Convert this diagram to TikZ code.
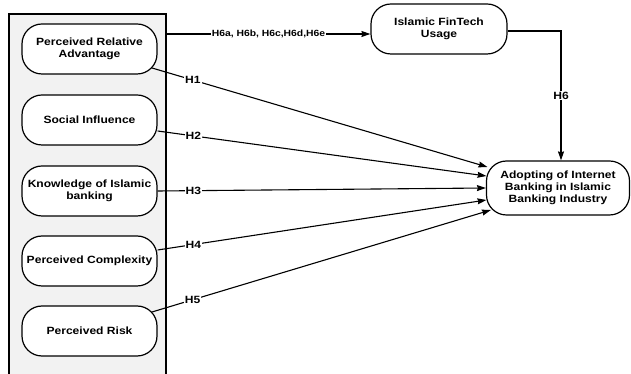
\documentclass[tikz,border=0pt]{standalone}
\usepackage{fontspec}
\setmainfont{Liberation Sans}[FakeStretch=1.15]
\usetikzlibrary{arrows.meta,calc}
\begin{document}
\begin{tikzpicture}[x=1pt,y=1pt,
  cbox/.style={draw, line width=1.2pt, rounded corners=20pt, minimum width=135pt, minimum height=50pt, align=center, fill=white, inner sep=2pt, font=\fontsize{10.5}{12}\selectfont\bfseries},
  lab/.style={fill=white, inner sep=1pt, font=\fontsize{10.5}{12}\selectfont\bfseries},
  labs/.style={fill=white, inner sep=1pt, font=\fontsize{9}{10}\selectfont\bfseries},
  arr/.style={line width=1.1pt, -{Stealth[length=9pt,width=6pt,inset=1pt]}}]
\useasboundingbox (0,0) rectangle (631,374);
\node[draw, fill=gray!10, line width=1.2pt, minimum width=157pt, minimum height=366pt, inner sep=0pt] (cont) at (87.5,177) {};
\node[cbox] (pra) at (89.5,325) {Perceived Relative\\Advantage};
\node[cbox] (si) at (89.5,254) {Social Influence};
\node[cbox] (kib) at (89.5,183) {Knowledge of Islamic\\banking};
\node[cbox] (pc) at (89.5,113) {Perceived Complexity};
\node[cbox] (pr) at (89.5,43) {Perceived Risk};
\node[cbox, minimum width=136pt] (fin) at (439,345) {Islamic FinTech\\Usage};
\node[cbox, minimum width=143pt, minimum height=54pt] (ad) at (558,186) {Adopting of Internet\\Banking in Islamic\\Banking Industry};
\coordinate (s6) at (cont.east |- 0,340);
\draw[arr] (s6) -- node[labs]{H6a, H6b, H6c,H6d,H6e} ($(fin.west)+(0,-5)$);
\draw[arr] ($(fin.east)+(0,-2)$) -| node[lab, pos=0.75]{H6} ($(ad.north)+(3,0)$);
\draw[arr] ($(pra.center)+(62.5,-19)$) -- node[lab, pos=0.122]{H1} ($(ad.west)+(1.5,21)$);
\draw[arr] ($(si.east)+(0,-11)$) -- node[lab, pos=0.109]{H2} ($(ad.west)+(0.5,12)$);
\draw[arr] (kib.east) -- node[lab, pos=0.109]{H3} (ad.west);
\draw[arr] ($(pc.east)+(0,11)$) -- node[lab, pos=0.109]{H4} ($(ad.west)+(0.5,-12)$);
\draw[arr] ($(pr.center)+(62.5,19)$) -- node[lab, pos=0.12]{H5} ($(ad.west)+(5,-22)$);
\end{tikzpicture}
\end{document}
